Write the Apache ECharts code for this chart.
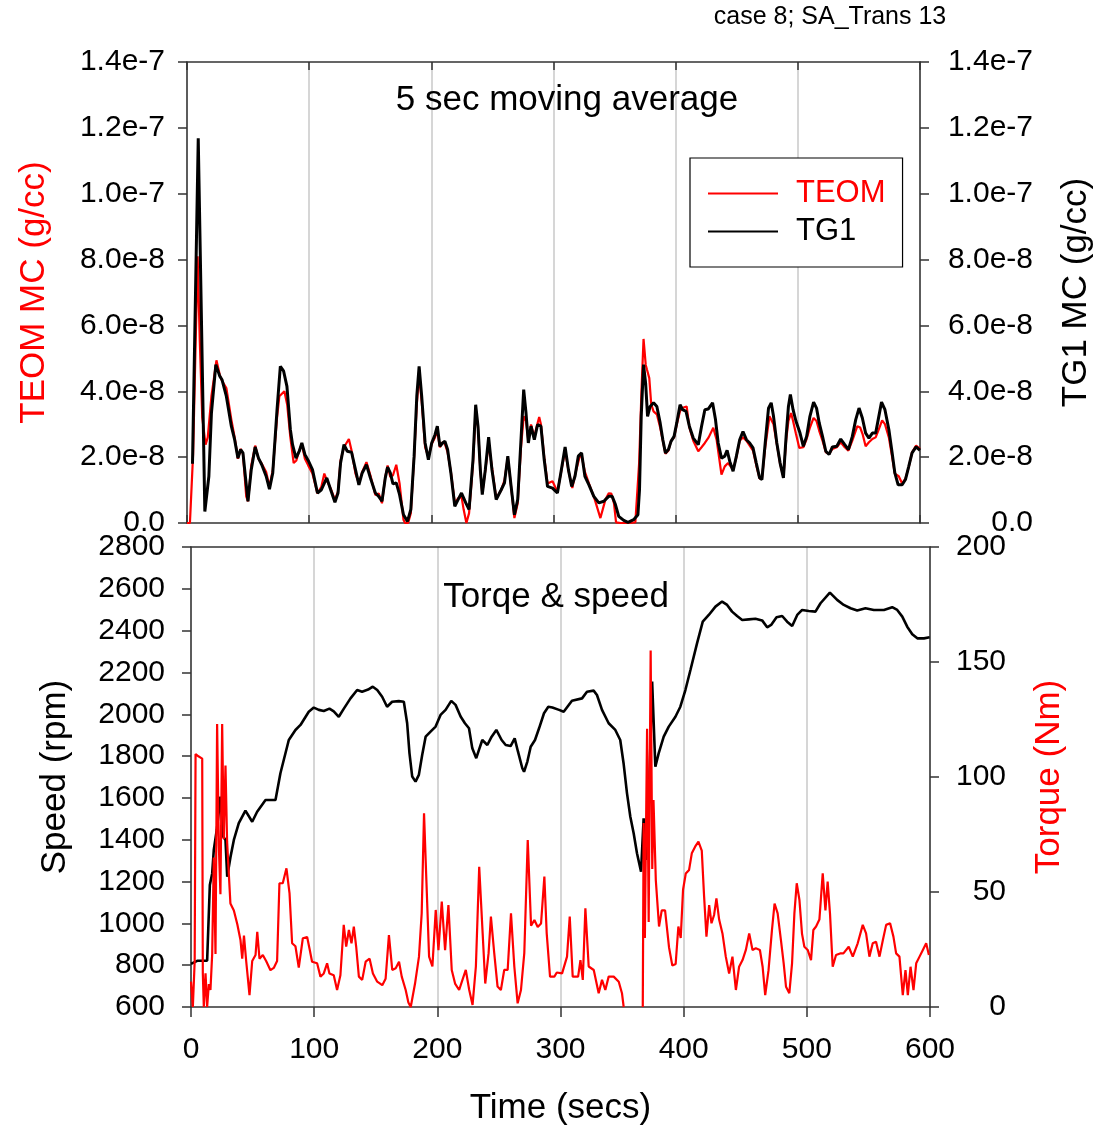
<!DOCTYPE html>
<html>
<head>
<meta charset="utf-8">
<script src="https://cdn.jsdelivr.net/npm/echarts@6/dist/echarts.min.js"></script>
<style>
html,body{margin:0;padding:0;background:#fff;}
#chart{width:1102px;height:1128px;}
</style>
</head>
<body>
<div id="chart"></div>
<script>
// ---- DATA ----
// Top panel: mass concentration, values in units of 1e-8 g/cc, [time (s), value]
const teomMC = [[0,0],[2.4,0],[5,2.1],[8.7,8.1],[10.5,5.5],[12.5,3.2],[15.2,2.38],[17,2.6],[20,3.85],[24.1,4.94],[26.8,4.5],[28.2,4.35],[32.2,4.1],[36.3,3.14],[39,2.6],[41.7,1.95],[43.9,2.25],[45.8,2.1],[48.5,0.8],[50,0.66],[52.6,1.75],[55.8,2.35],[58.5,1.95],[61.2,1.8],[64.8,1.55],[67.5,1.1],[70.2,1.6],[73.7,3.2],[75.6,3.85],[79.7,4.0],[82,3.6],[84.6,2.6],[87.3,1.82],[89.5,1.9],[91.9,2.2],[94,2.4],[96.5,1.95],[99.2,1.75],[102.7,1.5],[106.8,0.9],[110,1.1],[112.4,1.5],[114.4,1.3],[117.6,1.05],[121.1,0.7],[123.6,0.95],[125.7,1.9],[128.5,2.3],[132.5,2.55],[134.7,2.2],[137.9,1.5],[140.7,1.2],[143.4,1.55],[146.9,1.85],[150.1,1.45],[154.2,0.85],[156.9,0.9],[159.6,0.6],[162.3,1.4],[164.2,1.75],[166.4,1.4],[168.6,1.45],[171.3,1.77],[174,1.2],[177.2,0.1],[178.5,0],[181,0],[183.2,0.3],[185.9,2.0],[188.1,3.6],[190,4.5],[192.1,3.7],[194.9,2.3],[197.6,2.0],[200.3,2.4],[203,2.6],[204.9,2.8],[207,2.3],[209.2,2.45],[211.1,2.4],[213.3,2.15],[216,1.55],[219.2,0.6],[221.9,0.75],[224.7,0.8],[226.5,0.4],[228.7,0],[230.9,0.3],[234.1,1.8],[236.3,3.4],[238.2,2.9],[240.1,1.6],[241.7,0.9],[244.2,1.6],[246.9,2.4],[249.6,1.7],[253.1,0.75],[257.2,1.0],[259.9,1.3],[262.6,2.0],[265.3,1.1],[268,0.15],[270.7,0.6],[273.4,2.3],[275.6,3.24],[277.5,3.1],[279.4,2.5],[281.6,2.99],[284.3,2.6],[286,2.9],[288.3,3.22],[289.7,3.0],[292.4,2.0],[295.1,1.2],[299.2,1.27],[303.2,0.95],[306,1.5],[309.5,2.2],[312.2,1.6],[315.4,1.06],[318,1.52],[321.3,2.0],[323,2.05],[325.7,1.55],[329,1.2],[333.8,0.71],[338.4,0.15],[342.5,0.71],[345.2,0.9],[347.4,0.89],[349.5,0.6],[351.2,0.02],[355,0],[360,0],[367,0.02],[370.1,1.82],[372,4],[373.7,5.59],[375.5,4.8],[376.5,4.66],[378.4,4.4],[380,3.6],[381.9,3.39],[384.6,3.3],[387.3,2.9],[389.5,2.5],[391.6,2.1],[394.1,2.2],[396.2,2.5],[398.7,2.6],[400.9,3.0],[403.6,3.4],[405.7,3.5],[409,3.54],[411.2,2.9],[414.4,2.5],[418.5,2.18],[421.2,2.3],[423.9,2.43],[427,2.6],[430.8,2.89],[433.5,2.53],[437.5,1.47],[440.2,1.72],[442.9,1.82],[447,1.62],[449.7,2.0],[452.4,2.5],[455.1,2.6],[457.9,2.5],[460.6,2.35],[463.3,2.2],[466,1.75],[468.7,1.35],[470.6,1.35],[473.3,2.3],[476.8,3.24],[478.2,3.2],[480.1,3.0],[482.8,2.4],[485.5,1.8],[488.2,1.4],[490.4,2.5],[492.3,3.1],[494.5,3.34],[496.1,3.1],[498.5,2.7],[501.2,2.28],[504.5,2.3],[507.2,2.55],[509.9,2.9],[512.9,3.19],[515.3,3.1],[517.5,2.8],[520.2,2.5],[522.9,2.15],[525.6,2.1],[528.3,2.25],[531.9,2.3],[535.1,2.45],[538.4,2.3],[541.4,2.2],[544.6,2.5],[548.7,2.94],[551,2.9],[553,2.7],[555.5,2.33],[558.2,2.45],[561,2.55],[563.7,2.6],[565.8,2.8],[569,3.12],[571.3,3.0],[574.5,2.6],[577.2,2.0],[579.4,1.5],[582.6,1.42],[585.4,1.2],[588.1,1.35],[590.8,1.7],[593.5,2.15],[596.8,2.35],[600,2.25]];

const tg1MC = [[4.5,1.8],[9.2,11.68],[14.6,0.35],[17.9,1.42],[20,3.34],[23.6,4.81],[26.8,4.46],[28.7,4.35],[32.2,3.85],[36.3,2.94],[39,2.53],[41.7,1.97],[43.9,2.23],[45.8,2.13],[49.9,0.66],[52.6,1.62],[55.8,2.31],[58.5,1.97],[61.2,1.77],[64.8,1.42],[67.5,1.03],[70.2,1.52],[73.7,3.44],[76.4,4.76],[79.1,4.61],[81.8,4.15],[84.6,2.84],[86.4,2.38],[89.2,1.97],[91.9,2.18],[94,2.43],[96.5,2.08],[99.2,1.9],[102.7,1.62],[106.8,0.91],[110,1.01],[114.4,1.37],[117.6,1.01],[121.1,0.63],[123.6,0.91],[125.7,1.82],[128.5,2.38],[131.2,2.18],[134.7,2.15],[137.9,1.62],[140.7,1.16],[143.4,1.52],[146.9,1.77],[150.1,1.37],[154.2,0.91],[156.9,0.81],[159.6,0.66],[162.3,1.37],[164.2,1.7],[166.4,1.52],[168.6,1.19],[171.3,1.22],[174,0.86],[177.2,0.25],[180.5,0.05],[183.2,0.41],[185.9,2.03],[188.1,3.85],[190,4.76],[192.1,3.85],[194.9,2.43],[197.6,1.92],[200.3,2.43],[203,2.68],[204.9,2.94],[207,2.33],[209.2,2.43],[211.1,2.48],[213.3,2.23],[216,1.52],[219.2,0.51],[221.9,0.71],[224.7,0.91],[228.2,0.61],[230.9,0.41],[234.1,1.92],[236.3,3.59],[238.2,2.94],[240.1,1.62],[241.7,0.86],[244.2,1.62],[246.9,2.61],[249.6,1.62],[253.1,0.71],[257.2,1.01],[259.9,1.22],[262.6,2.03],[265.3,1.11],[268,0.25],[270.7,0.71],[273.4,2.53],[275.6,4.05],[277.5,3.34],[279.4,2.43],[281.6,2.94],[284.3,2.53],[287,2.99],[289.7,2.94],[292.4,1.92],[295.1,1.11],[299.2,1.06],[303.2,0.91],[306,1.52],[309.5,2.31],[312.2,1.62],[314.9,1.11],[317.6,1.42],[320.3,2.03],[323,2.13],[325.7,1.42],[329,1.16],[333,0.81],[337.1,0.61],[341.2,0.66],[345.2,0.81],[348,0.81],[350.7,0.56],[353.4,0.2],[357.5,0.08],[361,0.02],[365.6,0.1],[369.1,0.25],[370.4,1.01],[371.8,3.24],[373.7,4.81],[375.4,4.25],[377,3.24],[379.1,3.54],[381.9,3.65],[384.6,3.54],[387.3,3.04],[389.5,2.53],[391.6,2.13],[394.1,2.23],[396.2,2.48],[398.7,2.63],[400.9,3.04],[403.6,3.59],[405.7,3.44],[408.5,3.39],[411.2,2.94],[414.4,2.58],[418.5,2.38],[421.2,2.94],[423.9,3.44],[426.6,3.46],[430.2,3.65],[432.6,3.14],[434.8,2.43],[437.5,1.97],[440.2,2.03],[442.1,2.21],[444.3,1.87],[447,1.57],[449.7,2.03],[452.4,2.53],[455.1,2.78],[457.9,2.53],[460.6,2.43],[463.3,2.28],[466,1.82],[468.7,1.37],[470.6,1.32],[473.3,2.43],[476,3.49],[478.2,3.65],[480.1,3.24],[482.8,2.43],[485.5,1.82],[488.2,1.37],[490.4,2.63],[492.3,3.54],[493.9,3.9],[496.1,3.44],[498.5,3.09],[501.8,2.73],[504.5,2.33],[507.2,2.63],[509.9,3.24],[512.9,3.67],[515.3,3.49],[517.5,3.04],[520.2,2.63],[522.9,2.18],[525.6,2.08],[528.3,2.31],[531.9,2.33],[535.1,2.55],[538.4,2.38],[541.4,2.23],[544.6,2.63],[547.4,3.14],[550.1,3.49],[552.8,3.19],[555.5,2.73],[558.2,2.58],[561,2.73],[563.7,2.73],[565.8,3.14],[568.5,3.67],[571.3,3.44],[574.5,2.84],[577.2,2.13],[579.4,1.52],[582.1,1.16],[585.4,1.16],[588.1,1.32],[590.8,1.72],[593.5,2.13],[596.8,2.31],[600,2.21]];

// Bottom panel: engine speed (rpm) and torque (Nm), [time (s), value]
const speedRpm = [[0,806],[5,821],[13.1,821],[15.3,1183],[17.2,1239],[18.5,1351],[21,1450],[23.9,1606],[26.1,1415],[28,1399],[29.4,1223],[32.1,1319],[34.8,1399],[38.8,1479],[44.2,1539],[49.7,1486],[53.7,1534],[60.5,1590],[68.6,1590],[72.6,1718],[79.4,1877],[84.8,1925],[88.9,1949],[95.6,2012],[99.7,2032],[103.8,2021],[107.8,2016],[112.4,2027],[115.9,2014],[120,1988],[124.1,2027],[129.5,2076],[134.9,2116],[138.9,2108],[143.8,2118],[147.6,2132],[151.2,2116],[155.2,2084],[159.2,2036],[163.3,2060],[168.7,2063],[172.8,2060],[175.5,1957],[177.4,1813],[179.6,1702],[182.3,1678],[185,1710],[187.7,1805],[190.5,1893],[194.5,1917],[198.6,1941],[202.6,1997],[206.7,2021],[211.3,2064],[214.8,2045],[218.9,1989],[222.4,1957],[225.7,1933],[228.4,1837],[231.6,1790],[233.8,1830],[236.5,1877],[240.6,1853],[244.1,1893],[247.9,1925],[252.2,1877],[255.5,1853],[259.5,1848],[262.8,1885],[265.5,1821],[269,1742],[270.4,1725],[273.1,1774],[275.8,1845],[279.3,1877],[282.6,1933],[286.6,2005],[290.1,2036],[293.4,2032],[298.8,2021],[302.6,2012],[309.3,2065],[317.5,2076],[321.5,2108],[326.9,2113],[329.6,2092],[333.7,2021],[339.1,1957],[344.5,1925],[348.5,1877],[351.2,1766],[354,1622],[356.7,1510],[359.4,1431],[362.1,1335],[365.4,1247],[366.2,1239],[367.5,1502],[369.4,1303],[371.6,1558],[374.4,2156],[377,1749],[379.7,1813],[383.8,1893],[387.9,1941],[393.3,1988],[397.3,2036],[401.4,2116],[405.5,2212],[410.9,2340],[415.5,2443],[420.4,2475],[425.8,2515],[431.2,2539],[435.3,2523],[439.3,2491],[443.4,2470],[447.5,2451],[452.9,2454],[458.3,2457],[463.7,2449],[467.8,2416],[471,2427],[475.4,2464],[480,2470],[484,2443],[488.1,2422],[492.2,2475],[496.2,2499],[501.6,2494],[507,2491],[511.1,2531],[518.7,2582],[524.6,2547],[530,2523],[535.5,2507],[540.9,2496],[547.6,2507],[554.4,2499],[562.6,2499],[569.3,2512],[573.4,2499],[577.5,2467],[581.5,2419],[585.6,2383],[589.7,2363],[595.1,2363],[599.7,2368]];

const torqueNm = [[0,11],[1.5,0],[3,20],[3.7,110],[6,109],[9.1,108],[9.6,14.6],[10.4,0],[11.8,14.6],[13.1,0],[14.5,10],[15.8,7.4],[17.2,23],[18.5,65],[19.9,23],[21.2,123],[22.6,70],[23.9,49],[25.3,123],[26.6,73],[28,105],[29.3,72],[30.7,58],[32,45],[34.8,42],[37.6,36],[40.2,29],[41.6,21],[43,31],[44.8,20],[47.5,5.2],[49.7,20],[52.4,22.6],[53.8,32.7],[55.6,21],[58.3,22.6],[61,20],[64.5,16],[67.2,17],[69.9,20],[71.8,53.8],[74.5,53.8],[77.5,60.3],[80,49.4],[82.1,27.7],[84.8,26.4],[87.5,17.1],[90.8,29.9],[94.3,30.4],[96.2,25.4],[98.3,19.7],[102.4,19],[105.1,13.2],[107.8,14.6],[110.5,19],[112.4,14.6],[115.9,13.8],[118.6,7.4],[121.3,13.8],[124,35.7],[126,26.3],[128.2,33.5],[130.3,27.7],[132.2,34.9],[134.1,26.3],[136.3,13.2],[139,11.8],[141.8,19.7],[145,21],[147.7,14.6],[151.2,11],[155.3,9.5],[158,12.3],[160.7,31.3],[163.4,16.1],[166.2,16.8],[168.9,19.7],[171.1,13.2],[174.3,7.4],[176.5,2],[178.4,0],[180,0],[181.9,10.2],[185.1,21.9],[187.3,40.7],[189.2,84.2],[191.1,55.2],[193.3,21.9],[196,17.6],[198.7,42.2],[200.9,24.7],[203.6,45.8],[206.3,24.7],[209,44.3],[211.7,16.1],[214.4,10.2],[217.7,7.4],[220.4,11.8],[223.1,16.1],[225.9,7.4],[228.6,0.9],[231.3,17.6],[234,61],[236.8,32],[238.9,10.2],[241.6,23.4],[243.5,39.3],[246.2,23.4],[248.9,8.9],[251.6,7.4],[254.3,16.1],[257.1,16.1],[259.8,40.7],[262.5,17.6],[265.2,1.6],[267.9,7.4],[270.6,23.4],[273.4,72.6],[276.1,35.3],[278.8,37.8],[281.5,34.8],[284.2,36.3],[286.9,56.7],[288.8,32],[291.5,13.2],[295,13.2],[297,15],[301.3,14.6],[305.3,21.9],[307.5,39.3],[309.9,13.2],[314.3,13.2],[316.2,20.4],[318.1,11.8],[320.2,42.9],[322.9,17.6],[327,16.1],[331,6],[333.7,11.8],[336.4,7.4],[339.1,13.2],[343.2,13.2],[347.3,11],[349.9,6],[351.3,0],[352,null],[366.5,null],[366.8,0],[367.5,80],[368.5,30],[370.3,121],[371.6,37],[373.2,155],[374.5,60],[375.5,90],[377.4,55],[380,35],[382.2,42],[384.9,42],[388.1,26],[390.8,18],[393.5,18.7],[395.7,35],[397.6,30],[399.5,51],[401.7,58],[404.4,59.6],[406.6,66.8],[409.3,69.7],[412,71.9],[414.7,68],[416.6,48],[418.5,30.6],[420.7,44.3],[422.6,36.4],[424.7,40],[426.6,47.2],[428.8,38],[431.5,32],[434.2,21.9],[436.9,14.6],[439.6,21.9],[442.4,7.4],[445,17.5],[447.8,20.4],[450.5,24.8],[453.2,32],[455.9,24.8],[458.6,25.5],[461.9,24.8],[464.1,17.5],[466.2,5.2],[468.9,16],[471.7,33.5],[473.8,45],[476.3,40.7],[479,29],[481.2,19],[483.1,8.8],[485.8,6],[488,19],[489.9,40.7],[491.8,53.8],[494,46.5],[496.1,31.8],[498,26.2],[500.7,24.8],[503.4,20.4],[505.3,33.5],[507.5,35],[510.2,38],[512.9,58.1],[515.1,42],[516.9,54.5],[518.8,40.7],[521,17.5],[523.7,22.6],[527,23.3],[529.7,23.3],[534,26.2],[537.3,21.9],[541.3,27.7],[545.4,35.7],[548.1,32],[550.8,21.9],[553.5,27.7],[556.2,28.4],[559,21.9],[561.7,29],[564.4,35.7],[567.6,36.4],[570.3,30.6],[572.5,23.3],[575.2,21.9],[577.9,5.2],[580.1,16],[582,5.2],[584.2,17.5],[586.6,7.3],[588.8,19],[591.5,21.9],[594.2,24.8],[596.9,27.7],[599.1,22.6]];

// Tick labels of the mass-concentration axes (one per 2e-8 step)
const mcTickLabels = ['0.0','2.0e-8','4.0e-8','6.0e-8','8.0e-8','1.0e-7','1.2e-7','1.4e-7'];

// ---- CHART ----
const FONT = '"Liberation Sans", Arial, Helvetica, sans-serif';
const AX = '#333';
const GRIDC = '#c8c8c8';
const RED = '#ff0000';

const chart = echarts.init(document.getElementById('chart'), null, {renderer:'canvas'});

function xAx(grid, pos, opts){
  return Object.assign({
    gridIndex: grid, type:'value', min:0, max:600, interval:100, position: pos,
    axisLine:{show:true, onZero:false, lineStyle:{color:AX, width:1.5}},
    axisTick:{show:true, inside:true, length:8, lineStyle:{color:AX, width:1.5}},
    axisLabel:{show:false},
    splitLine:{show:false}
  }, opts);
}
function yAx(grid, pos, min, max, interval, opts){
  return Object.assign({
    gridIndex: grid, type:'value', min:min, max:max, interval:interval, position: pos,
    axisLine:{show:true, onZero:false, lineStyle:{color:AX, width:1.5}},
    axisTick:{show:true, inside:false, length:9, lineStyle:{color:AX, width:1.5}},
    splitLine:{show:false},
    nameLocation:'middle', nameRotate:90
  }, opts);
}
const labelBase = {color:'#000', fontSize:30, fontFamily:FONT, showMinLabel:true, showMaxLabel:true};
const plain = (v)=>String(v);

const option = {
  animation:false,
  backgroundColor:'#fff',
  grid:[
    {left:187, top:62, width:738, height:461},
    {left:191, top:547, width:739, height:460}
  ],
  xAxis:[
    xAx(0,'bottom',{splitLine:{show:true, lineStyle:{color:GRIDC, width:1.5}}}),
    xAx(0,'top',{}),
    xAx(1,'bottom',{
      axisTick:{show:true, inside:false, length:10, lineStyle:{color:AX, width:1.5}},
      axisLabel:Object.assign({show:true, margin:28, formatter:plain}, labelBase),
      splitLine:{show:true, lineStyle:{color:GRIDC, width:1.5}},
      name:'Time (secs)', nameLocation:'middle', nameGap:84,
      nameTextStyle:{color:'#000', fontSize:35, fontFamily:FONT}
    }),
    xAx(1,'top',{axisTick:{show:false}})
  ],
  yAxis:[
    yAx(0,'left',0,14,2,{
      axisLabel:Object.assign({margin:22, formatter:(v)=>mcTickLabels[Math.round(v/2)]}, labelBase),
      name:'TEOM MC (g/cc)', nameGap:135,
      nameTextStyle:{color:RED, fontSize:35, fontFamily:FONT}
    }),
    yAx(0,'right',0,14,2,{
      axisLabel:Object.assign({margin:113, align:'right', formatter:(v)=>mcTickLabels[Math.round(v/2)]}, labelBase),
      name:'TG1 MC (g/cc)', nameGap:139,
      nameTextStyle:{color:'#000', fontSize:35, fontFamily:FONT}
    }),
    yAx(1,'left',600,2800,200,{
      axisLabel:Object.assign({margin:26, formatter:plain}, labelBase),
      name:'Speed (rpm)', nameGap:118,
      nameTextStyle:{color:'#000', fontSize:35, fontFamily:FONT}
    }),
    yAx(1,'right',0,200,50,{
      axisLabel:Object.assign({margin:76, align:'right', formatter:plain}, labelBase),
      name:'Torque (Nm)', nameGap:102,
      nameTextStyle:{color:RED, fontSize:35, fontFamily:FONT}
    })
  ],
  legend:{
    orient:'vertical', left:690, top:158,
    padding:[20,17,20,18], itemWidth:70, itemHeight:2, itemGap:7, icon:'rect',
    borderColor:'#000', borderWidth:1.2, backgroundColor:'#fff',
    textStyle:{fontSize:31, fontFamily:FONT, padding:[0,0,0,13]},
    data:[{name:'TEOM', textStyle:{color:RED}},{name:'TG1', textStyle:{color:'#000'}}]
  },
  graphic:[
    {type:'text', x:830, y:17, style:{text:'case 8; SA_Trans 13', fontSize:25, fontFamily:FONT, fill:'#000', align:'center', verticalAlign:'middle', textAlign:'center', textVerticalAlign:'middle'}},
    {type:'text', x:567, y:100, z:10, style:{text:'5 sec moving average', fontSize:35, fontFamily:FONT, fill:'#000', align:'center', verticalAlign:'middle', textAlign:'center', textVerticalAlign:'middle'}},
    {type:'text', x:556, y:597, z:10, style:{text:'Torqe & speed', fontSize:35, fontFamily:FONT, fill:'#000', align:'center', verticalAlign:'middle', textAlign:'center', textVerticalAlign:'middle'}}
  ],
  series:[
    {name:'TEOM', type:'line', xAxisIndex:0, yAxisIndex:0, data:teomMC, symbol:'none', showSymbol:false,
     color:RED, itemStyle:{color:RED}, lineStyle:{color:RED, width:2.2}, z:3},
    {name:'TG1', type:'line', xAxisIndex:0, yAxisIndex:1, data:tg1MC, symbol:'none', showSymbol:false,
     color:'#000', itemStyle:{color:'#000'}, lineStyle:{color:'#000', width:3}, z:4},
    {name:'Speed', type:'line', xAxisIndex:2, yAxisIndex:2, data:speedRpm, symbol:'none', showSymbol:false,
     color:'#000', lineStyle:{color:'#000', width:2.6}, z:3},
    {name:'Torque', type:'line', xAxisIndex:2, yAxisIndex:3, data:torqueNm, symbol:'none', showSymbol:false, connectNulls:false,
     color:RED, lineStyle:{color:RED, width:2.2}, z:4}
  ]
};
chart.setOption(option);
</script>
</body>
</html>
